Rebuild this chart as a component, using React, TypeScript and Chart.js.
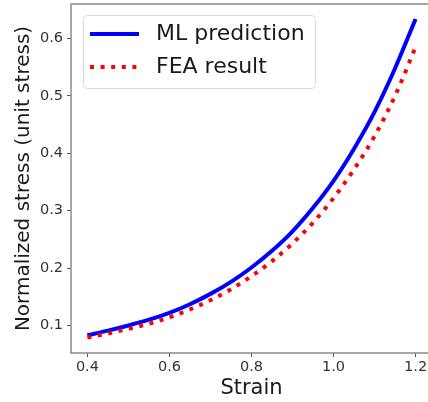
import React, { useEffect, useRef } from "react";
import { Chart, registerables } from "chart.js";

Chart.register(...registerables);

const strain = [0.4, 0.45, 0.5, 0.55, 0.6, 0.65, 0.7, 0.75, 0.8, 0.85, 0.9, 0.95, 1.0, 1.05, 1.1, 1.15, 1.2];
const mlStress = [0.083, 0.091, 0.1, 0.11, 0.122, 0.137, 0.155, 0.176, 0.201, 0.23, 0.264, 0.305, 0.352, 0.408, 0.472, 0.548, 0.634];
const feaStress = [0.079, 0.086, 0.094, 0.103, 0.114, 0.128, 0.144, 0.163, 0.186, 0.212, 0.243, 0.279, 0.322, 0.372, 0.43, 0.5, 0.585];
const xTicks = [0.4, 0.6, 0.8, 1.0, 1.2];
const yTicks = [0.1, 0.2, 0.3, 0.4, 0.5, 0.6];
const seriesLabels = ["ML prediction", "FEA result"];
const xTitle = "Strain";
const yTitle = "Normalized stress (unit stress)";

const FONT = "'DejaVu Sans', sans-serif";

export default function App() {
  const ref = useRef<HTMLCanvasElement>(null);

  useEffect(() => {
    document.body.style.margin = "0";
    const canvas = ref.current!;

    const spines = {
      id: "spines",
      afterDatasetsDraw(chart: any) {
        const { ctx, chartArea } = chart;
        const { left, top, right, bottom } = chartArea;
        ctx.save();
        ctx.strokeStyle = "#8a8a8a";
        ctx.lineWidth = 1.5;
        ctx.beginPath();
        ctx.moveTo(right + 4, top);
        ctx.lineTo(left, top);
        ctx.lineTo(left, bottom);
        ctx.lineTo(right + 4, bottom);
        ctx.stroke();
        ctx.restore();
      },
    };

    const legendBox = {
      id: "legendBox",
      afterDraw(chart: any) {
        const { ctx, chartArea } = chart;
        const bx = chartArea.left + 12;
        const by = chartArea.top + 11;
        const bw = 232;
        const bh = 73;
        ctx.save();
        ctx.beginPath();
        ctx.roundRect(bx + 0.5, by + 0.5, bw, bh, 4);
        ctx.fillStyle = "rgba(255,255,255,0.85)";
        ctx.fill();
        ctx.strokeStyle = "#dadada";
        ctx.lineWidth = 1;
        ctx.stroke();

        const ds = chart.data.datasets;
        const rows = [by + 19, by + 52];
        for (let i = 0; i < 2; i++) {
          const d = ds[i];
          ctx.beginPath();
          ctx.strokeStyle = d.borderColor;
          ctx.lineWidth = d.borderWidth;
          ctx.lineCap = "butt";
          ctx.setLineDash(d.borderDash || []);
          ctx.moveTo(bx + 7, rows[i]);
          ctx.lineTo(bx + 56, rows[i]);
          ctx.stroke();
          ctx.setLineDash([]);
          ctx.fillStyle = "#1a1a1a";
          ctx.font = `22px ${FONT}`;
          ctx.textBaseline = "middle";
          ctx.textAlign = "left";
          ctx.fillText(d.label, bx + 73, rows[i]);
        }
        ctx.restore();
      },
    };

    const chart = new Chart(canvas, {
      type: "line",
      data: {
        datasets: [
          {
            label: seriesLabels[0],
            data: strain.map((x, i) => ({ x, y: mlStress[i] })),
            borderColor: "#0000ff",
            borderWidth: 4,
            pointRadius: 0,
            cubicInterpolationMode: "monotone",
            order: 2,
          },
          {
            label: seriesLabels[1],
            data: strain.map((x, i) => ({ x, y: feaStress[i] })),
            borderColor: "#ff0000",
            borderWidth: 4,
            borderDash: [4, 6.6],
            borderCapStyle: "butt",
            pointRadius: 0,
            cubicInterpolationMode: "monotone",
            order: 1,
          },
        ],
      },
      options: {
        responsive: false,
        animation: false,
        events: [],
        layout: { padding: { top: 4, right: 0, left: 0, bottom: 0 } },
        plugins: { legend: { display: false }, tooltip: { enabled: false } },
        scales: {
          x: {
            type: "linear",
            min: 0.36,
            max: 1.24,
            afterBuildTicks: (s: any) => {
              s.ticks = xTicks.map((v) => ({ value: v }));
            },
            afterFit: (s: any) => {
              s.height = 49;
              s.paddingLeft = 0;
              s.paddingRight = 0;
            },
            border: { display: false },
            grid: {
              display: true,
              drawOnChartArea: false,
              drawTicks: true,
              tickLength: 4,
              tickColor: "#555",
              tickWidth: 1,
            },
            ticks: {
              padding: 2,
              color: "#333",
              font: { family: FONT, size: 14.5 },
              maxRotation: 0,
              callback: (v: any) => Number(v).toFixed(1),
            },
            title: {
              display: true,
              text: xTitle,
              color: "#1a1a1a",
              font: { family: FONT, size: 21 },
              padding: { top: 0, bottom: 1 },
            },
          },
          y: {
            type: "linear",
            min: 0.052,
            max: 0.66,
            afterBuildTicks: (s: any) => {
              s.ticks = yTicks.map((v) => ({ value: v }));
            },
            afterFit: (s: any) => {
              s.width = 71;
              s.paddingTop = 0;
              s.paddingBottom = 0;
            },
            border: { display: false },
            grid: {
              display: true,
              drawOnChartArea: false,
              drawTicks: true,
              tickLength: 4,
              tickColor: "#555",
              tickWidth: 1,
            },
            ticks: {
              padding: 4,
              color: "#333",
              font: { family: FONT, size: 14.5 },
              callback: (v: any) => Number(v).toFixed(1),
            },
            title: {
              display: true,
              text: yTitle,
              color: "#1a1a1a",
              font: { family: FONT, size: 20 },
              padding: { top: 12, bottom: 0 },
            },
          },
        },
      },
      plugins: [spines, legendBox],
    } as any);

    return () => chart.destroy();
  }, []);

  return (
    <div
      style={{
        position: "fixed",
        left: 0,
        top: 0,
        width: 428,
        height: 402,
        overflow: "hidden",
        background: "#fff",
      }}
    >
      <canvas ref={ref} width={432} height={402} style={{ display: "block" }} />
    </div>
  );
}
